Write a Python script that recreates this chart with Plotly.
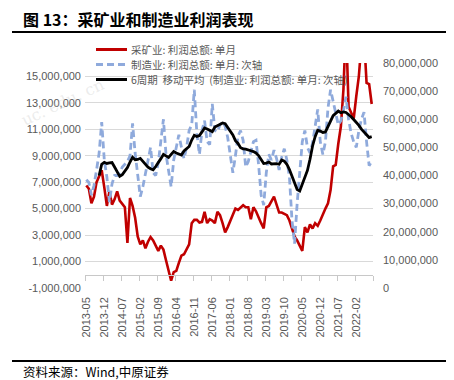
import plotly.graph_objects as go
import pandas as pd

# ---------------- data ----------------
months = [p.strftime("%Y-%m") for p in pd.period_range("2013-05", "2022-08", freq="M")]

tick_labels = ["2013-05", "2013-12", "2014-07", "2015-02", "2015-09", "2016-04",
               "2016-11", "2017-06", "2018-01", "2018-08", "2019-03", "2019-10",
               "2020-05", "2020-12", "2021-07", "2022-02"]

# 采矿业:利润总额:单月 (million, left axis)
mining = [6.75, 6.5, 5.4, 5.9, 7.0, 7.5, 7.9, 6.6, 5.2, 6.3,
          5.3, 5.7, 6.3, 5.6, 5.3, 5.1, 2.4, 5.8, 5.2, 4.3,
          2.9, 2.3, 2.6, 2.0, 2.5, 2.85, 2.6, 2.2, 1.8, 2.2,
          1.9, 1.1, 0.3, -0.45, 0.2, 0.3, 0.9, 1.45, 1.55, 1.9,
          2.3, 3.9, 4.15, 4.15, 3.95, 4.0, 4.75, 3.9, 4.2, 4.1,
          3.9, 4.75, 4.5, 3.9, 3.2, 3.6, 4.1, 4.6, 5.0, 4.9,
          5.1, 5.25, 5.1, 5.1, 4.2, 5.1, 4.8, 4.3, 3.9, 3.5,
          5.1, 5.2, 5.6, 5.9, 5.3, 4.7, 4.7, 4.6, 4.5, 4.1,
          3.5, 2.9, 2.6, 2.2, 1.8, 3.6, 3.2, 3.8, 3.5, 3.9,
          3.7, 4.1, 4.6, 5.0, 5.4, 6.4, 8.2, 8.3, 9.9, 11.2,
          14.0, 19.0, 12.7, 12.3, 11.8, 13.5, 15.0, 17.5, 18.0, 14.5,
          14.4, 12.9]

# 制造业:利润总额:单月 (million, right axis)
manufacturing = [38.5, 37.5, 33.0, 36.5, 42.0, 48.0, 59.0, 45.5, 39.5, 30.5,
                 37.0, 40.0, 40.0, 41.0, 43.0, 44.0, 45.0, 47.0, 58.5, 48.0,
                 41.0, 32.5, 36.0, 41.0, 46.0, 50.0, 41.0, 40.0, 44.5, 51.5,
                 60.0, 47.5, 41.0, 36.0, 45.5, 50.0, 54.5, 50.0, 46.0, 50.0,
                 56.0, 58.0, 70.5, 55.0, 47.5, 56.0, 59.5, 52.0, 51.0, 65.5,
                 56.0, 55.5, 58.0, 59.0, 57.5, 53.5, 48.0, 41.0, 47.0, 54.0,
                 56.0, 52.5, 43.0, 45.0, 48.5, 52.0, 52.5, 44.0, 33.0, 29.5,
                 41.0, 47.5, 45.5, 49.0, 46.0, 42.0, 46.5, 49.5, 45.5, 39.5,
                 24.0, 15.8, 30.0, 40.0, 52.0, 56.0, 50.0, 48.0, 51.5, 57.5,
                 63.5, 52.0, 47.5, 52.0, 64.0, 70.5, 66.0, 62.0, 58.0, 59.5,
                 63.0, 68.0, 60.0, 55.0, 52.0, 50.0, 56.0, 60.0, 62.5, 52.0,
                 43.5, 45.0]

# 6周期 移动平均 (制造业:利润总额:单月:次轴) (million, right axis)
manufacturing_ma6 = [None, None, None, None, None,
                     40.0, 44.0, 44.7, 44.3, 44.5, 44.6, 43.0, 41.2, 39.7, 40.3,
                     41.5, 42.8, 44.8, 46.5, 45.6, 45.7, 46.1, 45.0, 44.0, 43.0,
                     42.4, 42.0, 43.2, 44.4, 46.0, 47.5, 47.0, 46.4, 47.5, 48.5,
                     48.0, 47.6, 47.3, 48.7, 49.6, 50.3, 52.6, 54.3, 53.9, 54.2,
                     55.5, 56.9, 56.5, 55.9, 55.6, 57.2, 57.7, 58.1, 58.7, 58.4,
                     57.0, 55.6, 54.4, 52.4, 51.4, 49.9, 49.5, 49.4, 49.0, 48.8,
                     48.5, 48.0, 47.1, 45.6, 44.3, 44.4, 44.8, 44.1, 44.2, 44.2,
                     44.0, 45.5, 45.1, 44.0, 42.1, 39.5, 37.2, 35.0, 34.5, 36.8,
                     39.4, 41.8, 45.8, 50.5, 53.8, 56.1, 55.8, 55.3, 55.5, 57.4,
                     59.5, 61.3, 62.1, 62.9, 62.3, 62.6, 62.4, 61.8, 60.9, 59.9,
                     58.9, 57.8, 56.5, 55.5, 54.6, 53.5, 53.8]

left_ticks = [-1e6, 1e6, 3e6, 5e6, 7e6, 9e6, 11e6, 13e6, 15e6]
left_text = ["-1,000,000", "1,000,000", "3,000,000", "5,000,000", "7,000,000",
             "9,000,000", "11,000,000", "13,000,000", "15,000,000"]
right_ticks = [0, 10e6, 20e6, 30e6, 40e6, 50e6, 60e6, 70e6, 80e6]
right_text = ["0", "10,000,000", "20,000,000", "30,000,000", "40,000,000",
              "50,000,000", "60,000,000", "70,000,000", "80,000,000"]

names = ["采矿业: 利润总额: 单月", "制造业: 利润总额: 单月: 次轴",
         "6周期  移动平均  (制造业: 利润总额: 单月: 次轴)"]

RED = "#C00000"
BLUE = "#8FAADC"
BLACK = "#000000"
GRID = "#D9D9D9"
TXT = "#595959"

# ---------------- figure ----------------
x = list(range(len(months)))
MIL = 1e6

fig = go.Figure()
fig.add_trace(go.Scatter(x=x, y=[v * MIL for v in mining], name=names[0],
                         mode="lines", line=dict(color=RED, width=2.6),
                         yaxis="y", xaxis="x"))
fig.add_trace(go.Scatter(x=x, y=[v * MIL for v in manufacturing], name=names[1],
                         mode="lines", line=dict(color=BLUE, width=2.8, dash="7px,4px"),
                         yaxis="y2", xaxis="x"))
fig.add_trace(go.Scatter(x=x, y=[None if v is None else v * MIL for v in manufacturing_ma6],
                         name=names[2], mode="lines",
                         line=dict(color=BLACK, width=2.8), yaxis="y2", xaxis="x"))
# carrier for the category axis drawn at the zero level
fig.add_trace(go.Scatter(x=[x[0], x[-1]], y=[0, 0], mode="lines", opacity=0,
                         line=dict(width=0), hoverinfo="skip", showlegend=False,
                         xaxis="x2", yaxis="y"))

tickpos = [months.index(t) for t in tick_labels]
boundaries = [p - 0.5 for p in tickpos] + [len(months) - 0.5]

# the page body adds an 8px margin, so the figure is drawn 8px smaller
OFF = 8
W, H = 454 - OFF, 380 - OFF
L, R, T, B = 85 - OFF, 81, 63 - OFF, 92
PW, PH = W - L - R, H - T - B


def px(X):
    return (X - OFF - L) / PW


def py(Y):
    return (H - B - (Y - OFF)) / PH


axis_font = dict(family="Liberation Sans, Arial", size=11, color=TXT)

fig.update_layout(
    width=W, height=H,
    margin=dict(l=L, r=R, t=T, b=B, autoexpand=False),
    paper_bgcolor="white", plot_bgcolor="white",
    showlegend=False,
    xaxis=dict(range=[-0.5, len(months) - 0.5], tickvals=tickpos, ticktext=tick_labels,
               tickangle=-90, showgrid=False, showline=False, zeroline=False,
               ticks="", tickfont=axis_font, ticklabelstandoff=6),
    xaxis2=dict(overlaying="x", anchor="free", position=1 / 17,
                range=[-0.5, len(months) - 0.5], tickvals=boundaries,
                ticks="outside", ticklen=5, tickcolor="#C8C8C8", tickwidth=1,
                showline=True, linecolor="#C8C8C8", linewidth=1,
                showticklabels=False, showgrid=False, zeroline=False),
    yaxis=dict(range=[-1e6, 16e6], tickvals=left_ticks, ticktext=left_text,
               showgrid=True, gridcolor=GRID, gridwidth=1, zeroline=False,
               showline=False, ticks="", tickfont=axis_font, ticklabelstandoff=3),
    yaxis2=dict(overlaying="y", side="right", range=[0, 80e6], tickvals=right_ticks,
                ticktext=right_text, showgrid=False, zeroline=False, showline=False,
                ticks="", tickfont=axis_font, ticklabelstandoff=9),
)

shapes = []
annotations = []

# title and rules
annotations.append(dict(text="<b>图 13：采矿业和制造业利润表现</b>", xref="paper", yref="paper",
                        x=px(21), y=py(19), xanchor="left", yanchor="middle",
                        showarrow=False,
                        font=dict(family="Noto Sans CJK SC", size=16, color="#000000")))
shapes.append(dict(type="line", xref="paper", yref="paper", x0=px(12), x1=px(446),
                   y0=py(32), y1=py(32), line=dict(color="#000000", width=2)))
shapes.append(dict(type="line", xref="paper", yref="paper", x0=px(12), x1=px(446),
                   y0=py(361), y1=py(361), line=dict(color="#000000", width=2)))
annotations.append(dict(text="资料来源：Wind,中原证券", xref="paper", yref="paper",
                        x=px(21), y=py(371.5), xanchor="left", yanchor="middle",
                        showarrow=False,
                        font=dict(family="Noto Sans CJK SC", size=12.5, color="#000000")))

# faint watermark
annotations.append(dict(text="uc. edu. cn", xref="paper", yref="paper",
                        x=px(62), y=py(102), xanchor="center", yanchor="middle",
                        showarrow=False, textangle=-25,
                        font=dict(family="DejaVu Serif", size=16, color="rgba(200,200,200,0.35)")))

# legend
rows = [49.5, 64.5, 79.5]
styles = [dict(color=RED, width=3), dict(color=BLUE, width=3, dash="7px,4px"),
          dict(color=BLACK, width=3)]
for name, yy, st in zip(names, rows, styles):
    shapes.append(dict(type="line", xref="paper", yref="paper", x0=px(96), x1=px(127),
                       y0=py(yy), y1=py(yy), line=st))
    annotations.append(dict(text=name, xref="paper", yref="paper", x=px(129), y=py(yy),
                            xanchor="left", yanchor="middle", showarrow=False,
                            font=dict(family="Noto Sans CJK SC", size=10.5, color=TXT)))

fig.update_layout(shapes=shapes, annotations=annotations)

fig.write_html("out.html")
